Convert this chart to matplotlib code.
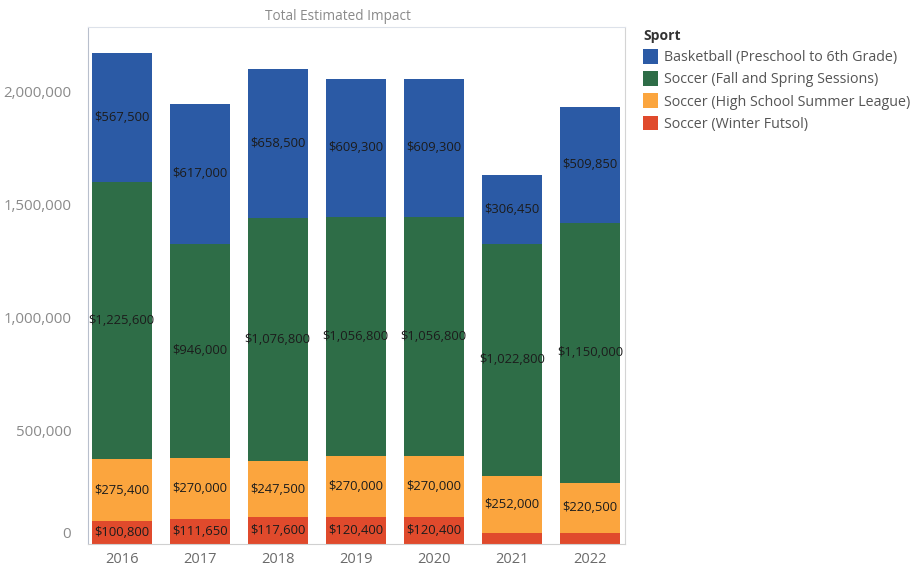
import matplotlib.pyplot as plt
from matplotlib.patches import Patch
from matplotlib.ticker import FuncFormatter
from matplotlib.transforms import ScaledTranslation

years = ["2016", "2017", "2018", "2019", "2020", "2021", "2022"]
futsol = [100800, 111650, 117600, 120400, 120400, 50400, 50400]
summer_league = [275400, 270000, 247500, 270000, 270000, 252000, 220500]
fall_spring = [1225600, 946000, 1076800, 1056800, 1056800, 1022800, 1150000]
basketball = [567500, 617000, 658500, 609300, 609300, 306450, 509850]

series_names = [
    "Basketball (Preschool to 6th Grade)",
    "Soccer (Fall and Spring Sessions)",
    "Soccer (High School Summer League)",
    "Soccer (Winter Futsol)",
]
colors = {
    "Basketball (Preschool to 6th Grade)": "#2b5aa5",
    "Soccer (Fall and Spring Sessions)": "#2e6d47",
    "Soccer (High School Summer League)": "#fba53e",
    "Soccer (Winter Futsol)": "#e04a2c",
}
# stacking order, bottom to top
stack = [
    ("Soccer (Winter Futsol)", futsol),
    ("Soccer (High School Summer League)", summer_league),
    ("Soccer (Fall and Spring Sessions)", fall_spring),
    ("Basketball (Preschool to 6th Grade)", basketball),
]

plt.rcParams["font.family"] = ["Open Sans", "DejaVu Sans"]

fig = plt.figure(figsize=(9.14, 5.71), dpi=100)
ax = fig.add_axes([88 / 914, 1 - 544 / 571, (625 - 88) / 914, (544 - 27) / 571])

x = list(range(len(years)))
bottom = [0] * len(years)
for name, vals in stack:
    ax.bar(x, vals, width=0.77, bottom=bottom, color=colors[name], zorder=2)
    for i, v in enumerate(vals):
        if v >= 90000:
            ax.text(i, bottom[i] + v / 2, f"${v:,.0f}", ha="center", va="center",
                    fontsize=9.4, color="#1c1c1c", zorder=3)
    bottom = [b + v for b, v in zip(bottom, vals)]

ax.set_xlim(-0.43, 6.45)
ax.set_ylim(0, 2285000)
ax.set_xticks(x)
ax.set_xticklabels(years, fontsize=10.5, color="#6a6a6a")
ax.set_yticks([0, 500000, 1000000, 1500000, 2000000])
ax.yaxis.set_major_formatter(FuncFormatter(lambda v, p: f"{v:,.0f}"))
ax.tick_params(axis="y", length=0, labelsize=10.8, labelcolor="#8a8a8a", pad=12)
ax.tick_params(axis="x", length=0, pad=6)

# keep the zero label above the baseline
fig.canvas.draw()
zero_label = ax.get_yticklabels()[0]
zero_label.set_transform(zero_label.get_transform()
                         + ScaledTranslation(0, 12 / 100, fig.dpi_scale_trans))

for side in ["left", "right", "bottom", "top"]:
    ax.spines[side].set_linewidth(0.8)
ax.spines["left"].set_color("#b8bfcc")
ax.spines["right"].set_color("#d4d4d4")
ax.spines["bottom"].set_color("#d0d0d0")
ax.spines["top"].set_color("#dde2ea")

fig.text(338 / 914, 1 - 17 / 571, "Total Estimated Impact", ha="center",
         va="center", fontsize=9.8, color="#8a8a8a")

handles = [Patch(facecolor=colors[n], edgecolor="none") for n in series_names]
leg = fig.legend(handles, series_names, title="Sport", loc="upper left",
                 bbox_to_anchor=(633 / 914, 1 - 19 / 571), frameon=False,
                 fontsize=10.3, title_fontsize=10, handlelength=1.05, handleheight=1.2,
                 handletextpad=0.45, labelspacing=0.42, alignment="left",
                 borderaxespad=0.3)
leg.get_title().set_fontweight("bold")
leg.get_title().set_color("#333333")
for t in leg.get_texts():
    t.set_color("#555555")

fig.savefig("out.png", dpi=100)
